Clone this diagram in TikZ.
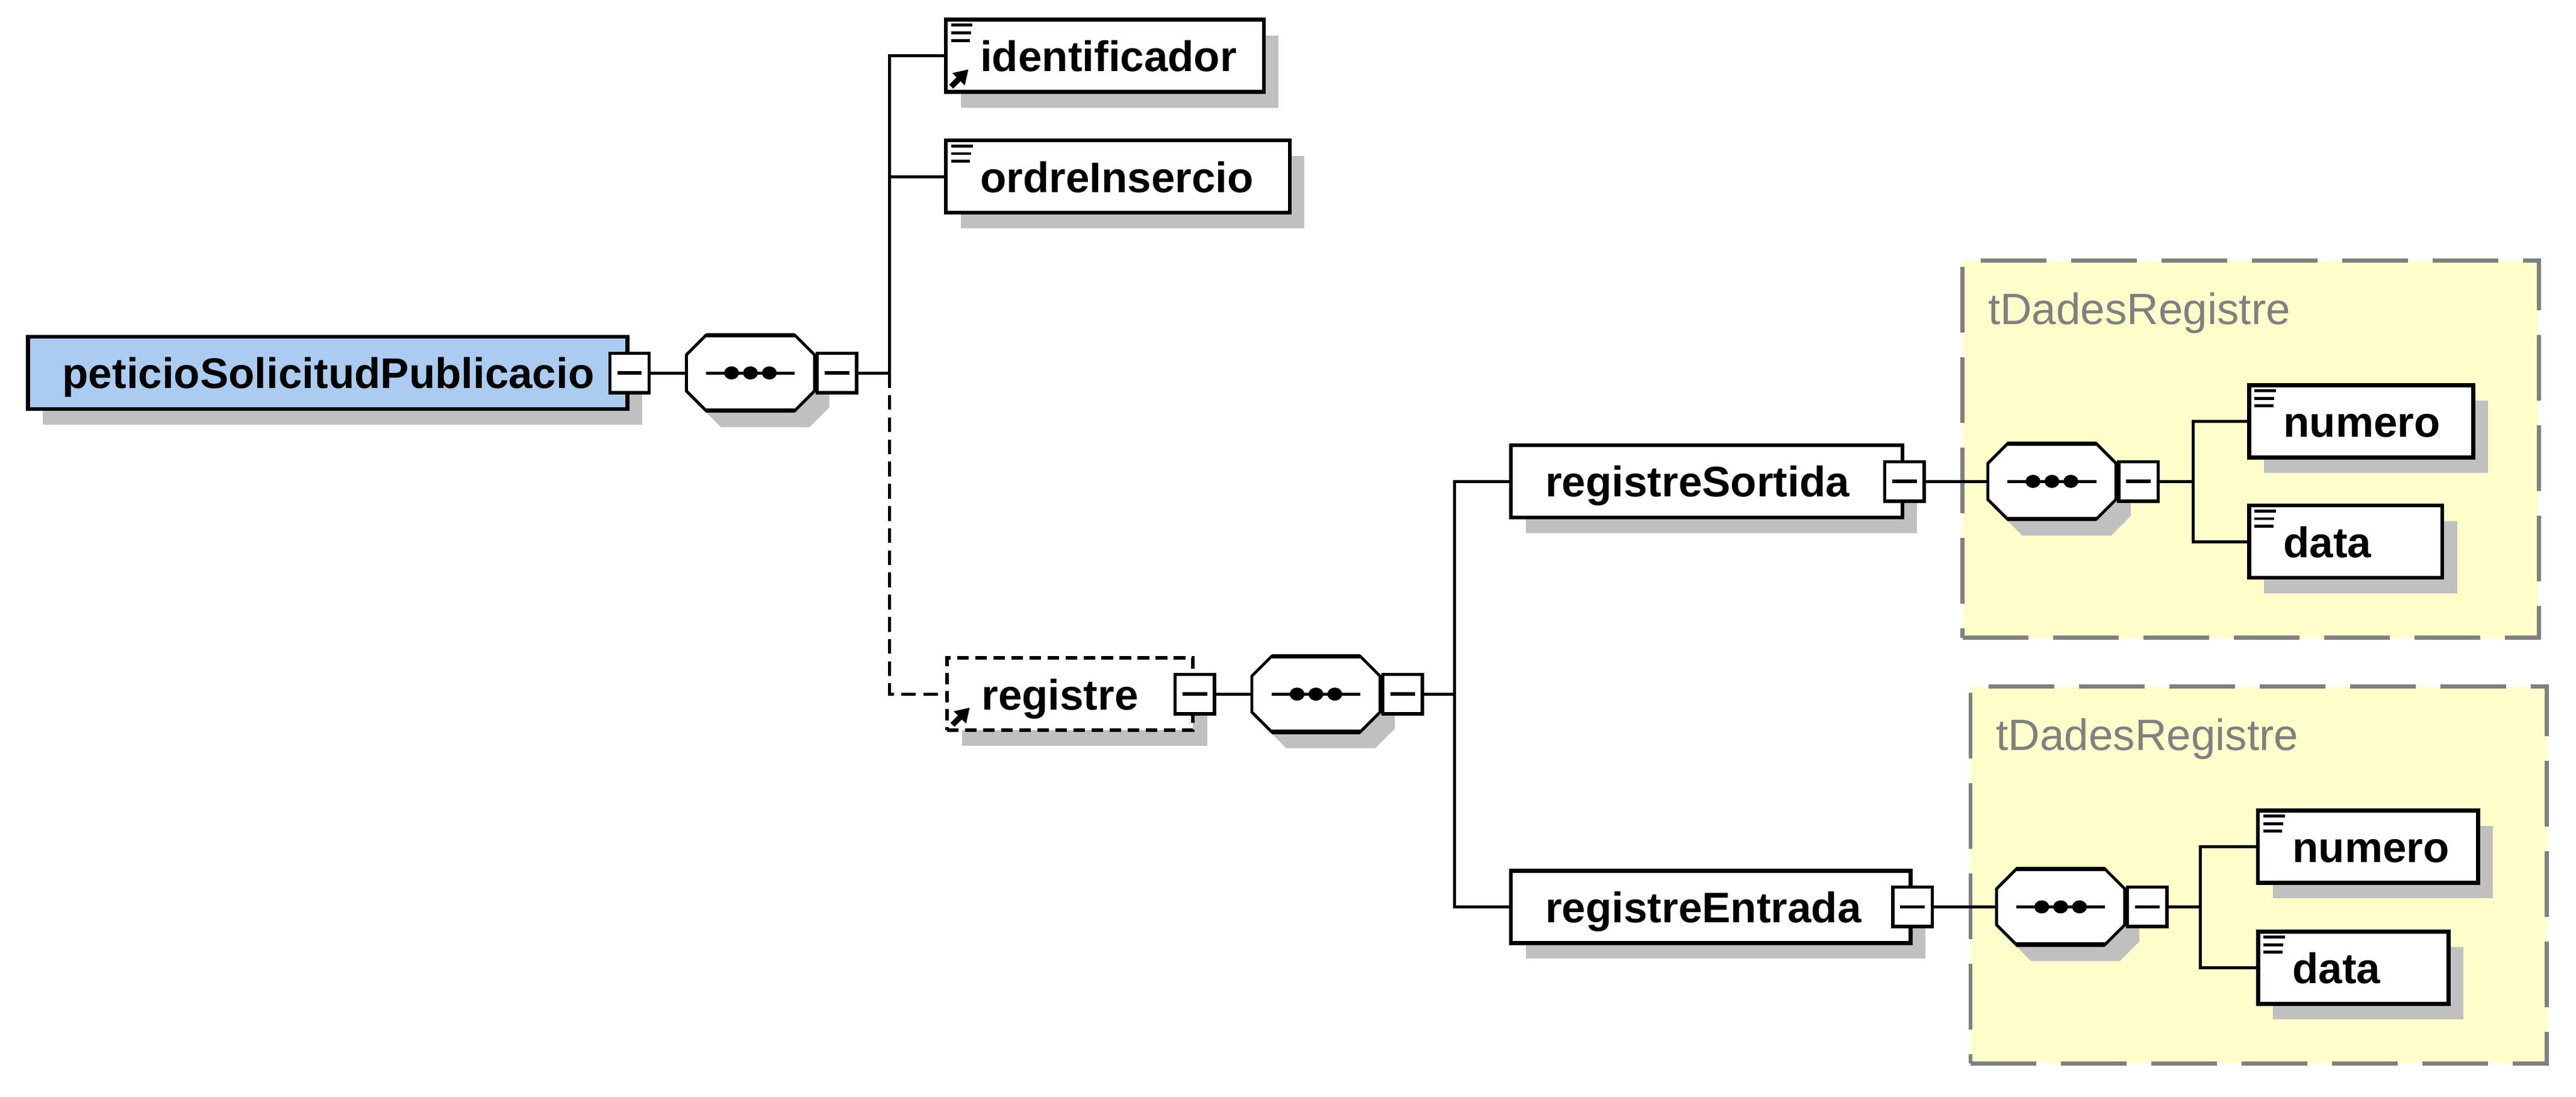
\documentclass[tikz,border=0pt]{standalone}
\usepackage{fontspec}
\setmainfont{Liberation Sans}
\usetikzlibrary{shadows,arrows.meta}

\definecolor{rootblue}{RGB}{171,203,240}
\definecolor{shadowgray}{RGB}{192,192,192}
\definecolor{typeyellow}{RGB}{255,255,204}
\definecolor{typegray}{RGB}{128,128,128}

\hyphenpenalty=10000
\exhyphenpenalty=10000

% three-line mark in the top left corner of an element
\newcommand{\docicon}[1]{%
  \draw[line width=0.18mm] ([shift={(0.45mm,-0.45mm)}]#1.north west) -- ++(1.3mm,0)
    ([shift={(0.45mm,-0.92mm)}]#1.north west) -- ++(1.2mm,0)
    ([shift={(0.45mm,-1.39mm)}]#1.north west) -- ++(1.15mm,0);}
% reference arrow in the bottom left corner
\newcommand{\reficon}[1]{%
  \draw[line width=0.34mm, -{Triangle[length=0.85mm,width=1mm]}]
    ([shift={(0.45mm,0.45mm)}]#1.south west) -- ++(1.05mm,1.05mm);}
% sequence compositor with its minus box
\newcommand{\compositor}[2]{%
  \node[seqframe] (#1) at (#2) {};
  \begin{scope}[shift={(#1.center)}]
    \fill[shadowgray] (-18,-13) -- (36,-13) -- (48,-1) -- (48,21) -- (36,33) -- (-18,33) -- (-30,21) -- (-30,-1) -- cycle;
    \filldraw[fill=white, line width=0.18mm] (-27,-23) -- (27,-23) -- (39,-11) -- (39,11) -- (27,23) -- (-27,23) -- (-39,11) -- (-39,-11) -- cycle;
    \draw[line width=0.27mm] (-27,-23) -- (27,-23) (-27,23) -- (27,23);
    \draw[line width=0.18mm] (-27,0) -- (27,0);
    \foreach \dx in {-11.5,0,11.5}
      \fill (\dx,0) ellipse[x radius=0.45mm, y radius=0.4mm];
  \end{scope}
  \node[minusbox, anchor=west] (#1M) at (#1.east) {};}

\begin{document}
\begin{tikzpicture}[x=0.1mm, y=-0.1mm,
  elem/.style={draw, fill=white, line width=0.24mm, minimum height=4.4mm, inner xsep=2.1mm, inner ysep=0pt,
    align=left, text height=1.9mm, text depth=0pt, font=\bfseries\fontsize{7.4}{9}\selectfont,
    drop shadow={shadow xshift=0.9mm, shadow yshift=-0.95mm, fill=shadowgray, opacity=1}},
  rootelem/.style={elem, fill=rootblue},
  optelem/.style={elem, dash pattern=on 0.7mm off 0.4mm},
  minusbox/.style={draw, fill=white, line width=0.2mm, minimum width=2.4mm, minimum height=2.4mm, inner sep=0pt,
    path picture={\draw[line width=0.2mm] ([xshift=0.45mm]path picture bounding box.west) -- ([xshift=-0.45mm]path picture bounding box.east);}},
  seqframe/.style={minimum width=7.8mm, minimum height=4.6mm, inner sep=0pt},
  conn/.style={line width=0.18mm},
  optconn/.style={conn, dash pattern=on 0.9mm off 0.45mm},
  typebox/.style={draw=typegray, fill=typeyellow, line width=0.24mm, dash pattern=on 4mm off 1.5mm,
    minimum width=35.08mm, minimum height=22.95mm},
  typelbl/.style={text=typegray, font=\fontsize{7.6}{9}\selectfont, inner sep=0pt}]

  \useasboundingbox (0,0) rectangle (1568,667.4);

  % complex types
  \node[typebox] (typeA) at (1370,273.4) {};
  \node[typelbl, anchor=base west] (typeAlbl) at ([shift={(1.6mm,-4mm)}]typeA.north west) {tDadesRegistre};
  \node[typebox] (typeB) at (1374.9,532.6) {};
  \node[typelbl, anchor=base west] (typeBlbl) at ([shift={(1.6mm,-4mm)}]typeB.north west) {tDadesRegistre};

  % root element
  \node[rootelem, text width=32.3mm] (root) at (199.5,227) {peticioSolicitudPublicacio};
  \node[minusbox] (rootM) at (root.east) {};
  \compositor{seqA}{456.8,227}
  \coordinate (busA) at (541.5,227);

  \node[elem, text width=15.16mm] (ident) at (672.5,34) {identificador};
  \docicon{ident}
  \reficon{ident}
  \node[elem, text width=16.73mm] (ordre) at (680.4,107.5) {ordreInsercio};
  \docicon{ordre}
  \node[optelem, text width=10.75mm] (registre) at (651.25,422.5) {registre};
  \reficon{registre}
  \node[minusbox] (registreM) at (registre.east) {};
  \compositor{seqB}{801,422.5}
  \coordinate (busB) at (885.5,422.5);

  % registreSortida
  \node[elem, text width=19.63mm] (regSort) at (1038.85,293) {registreSortida};
  \node[minusbox] (regSortM) at (regSort.east) {};
  \compositor{seqC}{1249,293}
  \coordinate (busC) at (1334.8,293);
  \node[elem, text width=9.44mm] (numA) at (1437.2,256.4) {numero};
  \docicon{numA}
  \node[elem, text width=7.56mm] (dataA) at (1427.8,329.7) {data};
  \docicon{dataA}

  % registreEntrada
  \node[elem, text width=20.13mm] (regEnt) at (1041.35,552) {registreEntrada};
  \node[minusbox] (regEntM) at (regEnt.east) {};
  \compositor{seqD}{1254.3,552}
  \coordinate (busD) at (1339.4,552);
  \node[elem, text width=9.2mm] (numB) at (1441.4,515.3) {numero};
  \docicon{numB}
  \node[elem, text width=7.4mm] (dataB) at (1432.5,589) {data};
  \docicon{dataB}

  % connectors
  \draw[conn] (rootM) -- (seqA);
  \draw[conn] (seqAM) -- (busA);
  \draw[conn] (ident) -| (busA);
  \draw[conn] (ordre) -- (ordre -| busA);
  \draw[optconn] (busA) |- (registre);
  \draw[conn] (registreM) -- (seqB);
  \draw[conn] (seqBM) -- (busB);
  \draw[conn] (regSort) -| (busB) |- (regEnt);
  \draw[conn] (regSortM) -- (seqC);
  \draw[conn] (seqCM) -- (busC);
  \draw[conn] (numA) -| (busC) |- (dataA);
  \draw[conn] (regEntM) -- (seqD);
  \draw[conn] (seqDM) -- (busD);
  \draw[conn] (numB) -| (busD) |- (dataB);
\end{tikzpicture}
\end{document}
